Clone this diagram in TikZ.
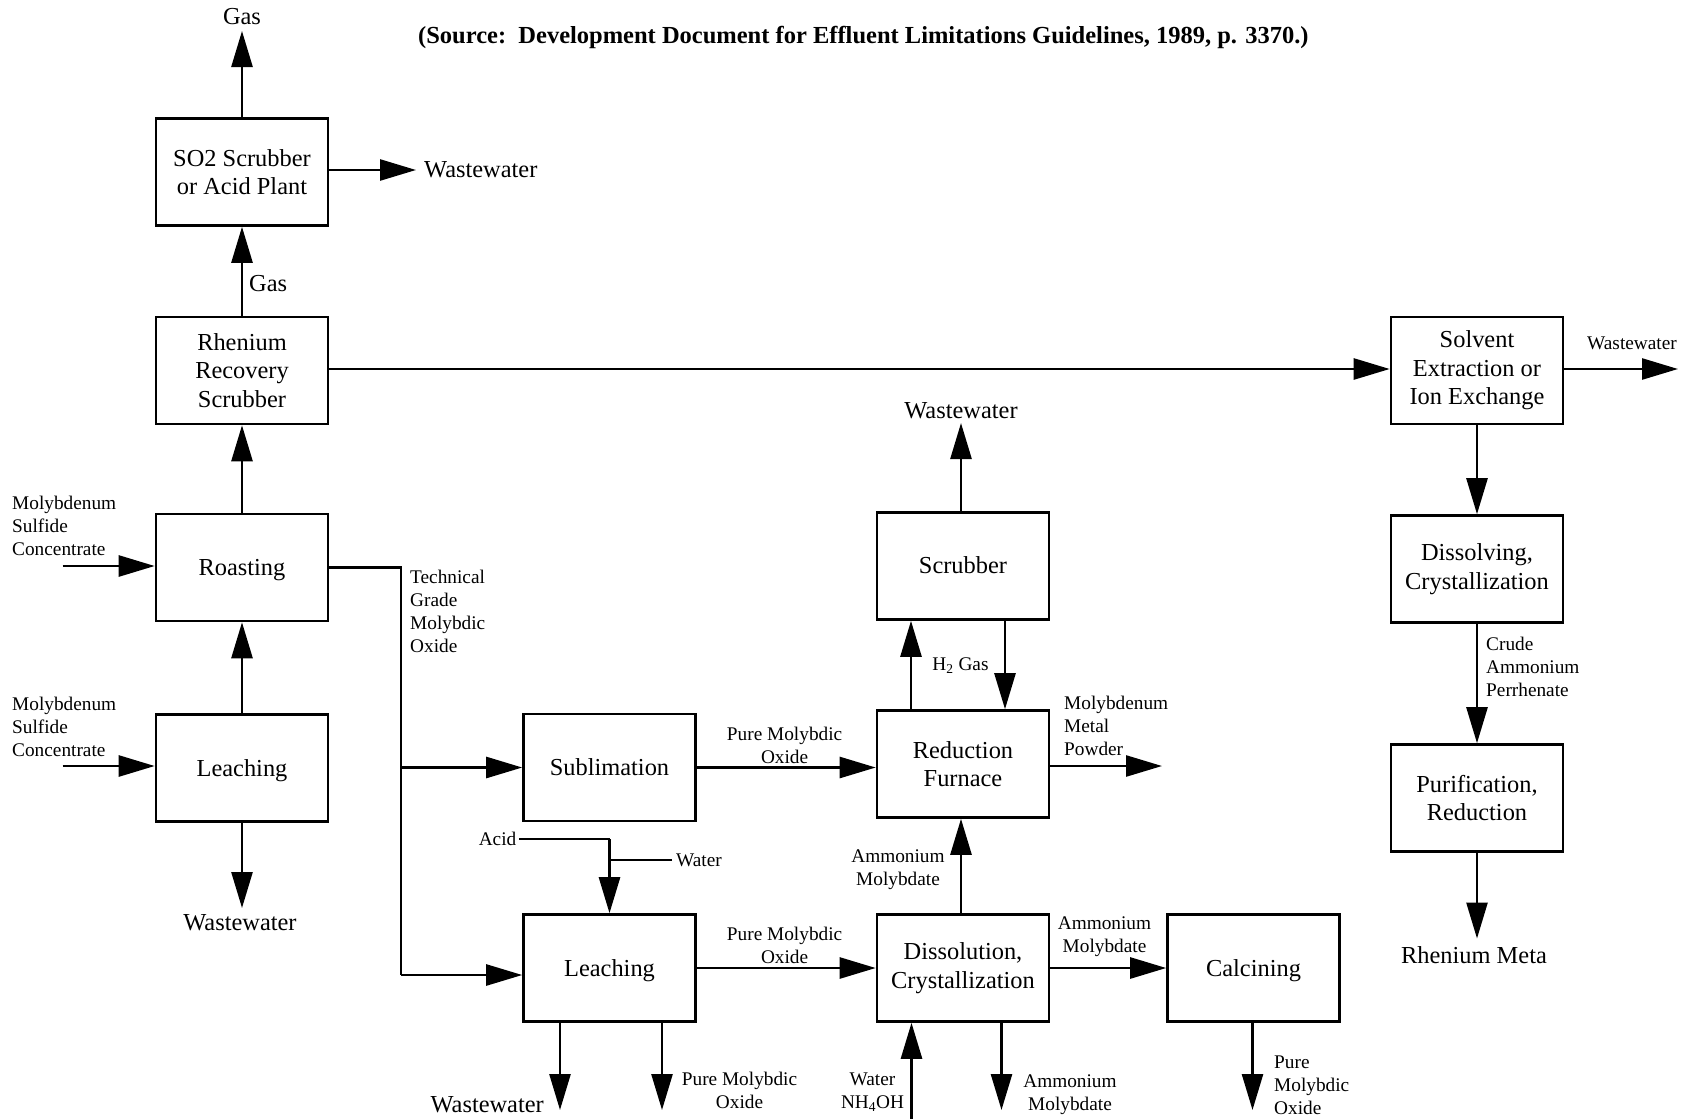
\documentclass[tikz,border=0pt]{standalone}
\usepackage{fontspec}
\setmainfont{Liberation Serif}
\usetikzlibrary{arrows.meta}
\begin{document}
\begin{tikzpicture}[x=1pt,y=-1pt,
  proc/.style={draw, line width=2.6pt, minimum width=172pt, minimum height=107pt,
               inner sep=0pt, align=center, font=\fontsize{24.4}{28.6}\selectfont},
  flat/.style={text depth=0pt},
  flow/.style={line width=2.6pt, -{Triangle[length=36pt,width=21pt]}},
  pipe/.style={line width=2.6pt},
  big/.style={inner sep=0pt, font=\fontsize{24.4}{28.6}\selectfont},
  small/.style={inner sep=0pt, font=\fontsize{19.3}{23}\selectfont},
]
\useasboundingbox (0,0) rectangle (1690,1119);

% title
\node[inner sep=0pt, anchor=base west, font=\fontsize{24.5}{28}\selectfont\bfseries] (title) at (418,43)
  {(Source:\ \ Development Document for Effluent Limitations Guidelines, 1989, p. 3370.)};

% process boxes
\node[proc] (so2)   at (242,172)    {SO2 Scrubber\\or Acid Plant};
\node[proc] (rhen)  at (242,370.5)  {Rhenium\\Recovery\\Scrubber};
\node[proc, flat] (roast) at (242,567.5)  {Roasting};
\node[proc, flat] (leachA) at (242,768)   {Leaching};
\node[proc] (subl)  at (609.5,767.5) {Sublimation};
\node[proc, flat] (leachB) at (609.5,968) {Leaching};
\node[proc] (scrub) at (963,566)    {\raisebox{2pt}{Scrubber}};
\node[proc] (redf)  at (963,764)    {Reduction\\Furnace};
\node[proc] (diss)  at (963,968)    {Dissolution,\\Crystallization};
\node[proc, flat] (calc)  at (1253.5,968) {Calcining};
\node[proc] (solv)  at (1477,370.5) {\raisebox{-2pt}{\begin{tabular}{@{}c@{}}Solvent\\Extraction or\\Ion Exchange\end{tabular}}};
\node[proc] (dslv)  at (1477,569)   {Dissolving,\\Crystallization};
\node[proc] (puri)  at (1477,798)   {Purification,\\Reduction};

% stream labels
\node[big] (gasTop) at (242,17) {Gas};
\node[big, anchor=west] (wwSO2) at (424,170) {Wastewater};
\node[big, anchor=west] (gasMid) at (249,284) {Gas};
\node[small, align=left, anchor=west] (feedR) at (12,526) {Molybdenum\\Sulfide\\Concentrate};
\node[small, align=left, anchor=west] (feedL) at (12,727) {Molybdenum\\Sulfide\\Concentrate};
\node[big] (wwLA) at (240,923) {Wastewater};
\node[small, align=left, anchor=west] (tech) at (410,611.5) {Technical\\Grade\\Molybdic\\Oxide};
\node[small, align=center] (pmo1) at (784.6,745) {Pure Molybdic\\Oxide};
\node[small, anchor=east, inner sep=2.5pt] (acid) at (519,839) {Acid};
\node[small, anchor=west, inner sep=4pt] (water) at (672,860) {Water};
\node[small, align=center] (pmo2) at (784.6,945.5) {Pure Molybdic\\Oxide};
\node[big, anchor=base east] (wwLB) at (544,1112) {Wastewater};
\node[small, align=center] (pmo3) at (739.5,1090) {Pure Molybdic\\Oxide};
\node[small, align=center] (amUp) at (898,869.5) {Ammonium\\Molybdate};
\node[small, align=center] (nh4) at (872.5,1092) {Water\\NH\textsubscript{4}OH};
\node[small, align=center] (amDn) at (1070,1095) {Ammonium\\Molybdate};
\node[small, align=center] (amCa) at (1104.5,937) {Ammonium\\Molybdate};
\node[small, align=left, anchor=west] (pmo4) at (1274,1085) {Pure\\Molybdic\\Oxide};
\node[big] (wwSc) at (961,411) {Wastewater};
\node[small] (h2) at (960.5,666) {H\textsubscript{2} Gas};
\node[small, align=left, anchor=west] (mmp) at (1064,726) {Molybdenum\\Metal\\Powder};
\node[small] (wwSo) at (1632,343) {Wastewater};
\node[small, align=left, anchor=west] (crude) at (1486,666.5) {Crude\\Ammonium\\Perrhenate};
\node[big] (reMet) at (1474,955) {Rhenium Meta};

% free ends and junctions
\coordinate (gasEnd) at (242,31);
\coordinate (wwSO2End) at (416,170);
\coordinate (feedREnd) at (62.5,566);
\coordinate (feedLEnd) at (62.5,766);
\coordinate (wwLAEnd) at (242,908);
\coordinate (tA) at (401,567.5);
\coordinate (tB) at (401,975);
\coordinate (acidJ) at (609.5,839);
\coordinate (lbW) at (560,1110);
\coordinate (lbP) at (662,1110);
\coordinate (nhB) at (911.5,1119);
\coordinate (amB) at (1001.5,1110);
\coordinate (caP) at (1252.5,1110);
\coordinate (scW) at (961,423);
\coordinate (mmpEnd) at (1162,766);
\coordinate (soW) at (1678,369);
\coordinate (reEnd) at (1477,938.5);

% left column
\draw[flow] (so2.north) -- (gasEnd);
\draw[flow] (so2.east |- wwSO2End) -- (wwSO2End);
\draw[flow] (rhen.north) -- (so2.south);
\draw[flow] (roast.north) -- (rhen.south);
\draw[flow] (leachA.north) -- (roast.south);
\draw[flow] (leachA.south) -- (wwLAEnd);
\draw[flow] (feedREnd) -- (feedREnd -| roast.west);
\draw[flow] (feedLEnd) -- (feedLEnd -| leachA.west);

% technical grade oxide split
\draw[pipe] (roast.east) -- (tA) -- (tB);
\draw[flow] (tB) -- (tB -| leachB.west);
\draw[flow] (tA |- subl.west) -- (subl.west);

% middle section
\draw[flow] (subl.east) -- (subl.east -| redf.west);
\draw[pipe] (acid.east) -- (acidJ);
\draw[flow] (acidJ) -- (leachB.north);
\draw[pipe] (water.west) -- (water.west -| acidJ);
\draw[flow] (leachB.east) -- (diss.west);
\draw[flow] (lbW |- leachB.south) -- (lbW);
\draw[flow] (lbP |- leachB.south) -- (lbP);
\draw[flow] ([xshift=-2pt]diss.north) -- ([xshift=-2pt]redf.south);
\draw[flow] (nhB) -- (nhB |- diss.south);
\draw[flow] (amB |- diss.south) -- (amB);
\draw[flow] (diss.east) -- (calc.west);
\draw[flow] (caP |- calc.south) -- (caP);

% reduction furnace and scrubber
\draw[flow] ([xshift=-52pt]redf.north) -- ([xshift=-52pt]scrub.south);
\draw[flow] ([xshift=42pt]scrub.south) -- ([xshift=42pt]redf.north);
\draw[flow] (scW |- scrub.north) -- (scW);
\draw[flow] (redf.east |- mmpEnd) -- (mmpEnd);

% rhenium recovery
\draw[flow] (rhen.east |- soW) -- (solv.west |- soW);
\draw[flow] (solv.east |- soW) -- (soW);
\draw[flow] (solv.south) -- (dslv.north);
\draw[flow] (dslv.south) -- (puri.north);
\draw[flow] (puri.south) -- (reEnd);
\end{tikzpicture}
\end{document}
